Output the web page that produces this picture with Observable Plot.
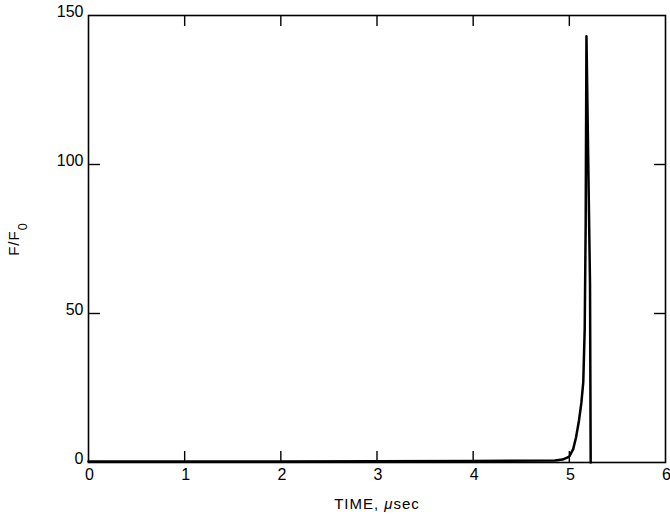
<!DOCTYPE html>
<html>
<head>
<meta charset="utf-8">
<script src="https://cdn.jsdelivr.net/npm/d3@7"></script>
<script src="https://cdn.jsdelivr.net/npm/@observablehq/plot@0.6"></script>
<style>
  html, body { margin: 0; padding: 0; background: #fff; }
  svg { font-family: "Liberation Sans", Arial, sans-serif; }
</style>
</head>
<body>
<div id="chart"></div>
<script>
// Data
const time = [0, 1, 2, 3, 4, 4.85, 4.93, 5.0, 5.04, 5.07, 5.10, 5.125, 5.145, 5.16, 5.17, 5.178, 5.215, 5.222];
const ratio = [0.3, 0.3, 0.3, 0.4, 0.5, 0.7, 1.0, 2.0, 4.5, 8.5, 14, 20, 27, 45, 80, 143, 60, 0];
const xTicks = [0, 1, 2, 3, 4, 5, 6];
const yTicks = [0, 50, 100, 150];
const xInner = [1, 2, 3, 4, 5];
const yInner = [50, 100];

const data = time.map((t, i) => ({t, v: ratio[i]}));

const chart = Plot.plot({
  width: 670,
  height: 518,
  marginLeft: 88,
  marginRight: 5,
  marginTop: 15,
  marginBottom: 56,
  style: {fontFamily: "'Liberation Sans', Arial, sans-serif", fontSize: "16px", color: "black", background: "white"},
  x: {domain: [0, 6]},
  y: {domain: [0, 150]},
  marks: [
    Plot.frame({stroke: "black", strokeWidth: 1.6}),
    Plot.axisX({anchor: "bottom", ticks: xInner, tickSize: -11, fill: "none", label: null, strokeWidth: 1.4}),
    Plot.axisX({anchor: "top", ticks: xInner, tickSize: -10, fill: "none", label: null, strokeWidth: 1.4}),
    Plot.axisY({anchor: "left", ticks: yInner, tickSize: -12, fill: "none", label: null, strokeWidth: 1.4}),
    Plot.axisY({anchor: "right", ticks: yInner, tickSize: -12, fill: "none", label: null, strokeWidth: 1.4}),
    Plot.axisX({anchor: "bottom", ticks: xTicks, tickFormat: d3.format("d"), tickSize: 0, tickPadding: 6, dx: 1, fontSize: 16,
      label: "TIME, μsec", labelAnchor: "center", labelOffset: 46, labelArrow: "none"}),
    Plot.axisY({anchor: "left", ticks: yTicks, tickFormat: d3.format("d"), tickSize: 0, tickPadding: 5, dy: -4, fontSize: 16,
      label: "F/F0", labelAnchor: "center", labelOffset: 80, labelArrow: "none"}),
    Plot.line(data, {x: "t", y: "v", stroke: "black", strokeWidth: 2.5})
  ]
});
document.getElementById("chart").appendChild(chart);

// Typeset subscript in the y label and italic mu in the x label (text stays real text)
d3.select(chart).selectAll("text").each(function () {
  const el = d3.select(this);
  const s = this.textContent;
  if (s === "F/F0") {
    el.text("F/F").attr("font-size", 15).attr("letter-spacing", "1px");
    el.append("tspan").attr("baseline-shift", "sub").attr("font-size", "0.85em").text("0");
  } else if (s === "TIME, μsec") {
    el.text("TIME, ").attr("font-size", 15).attr("letter-spacing", "1px");
    el.append("tspan").attr("font-style", "italic").text("μ");
    el.append("tspan").text("sec");
  } else if (/^\d+$/.test(s)) {
    el.attr("font-size", 16);
  }
});
</script>
</body>
</html>
